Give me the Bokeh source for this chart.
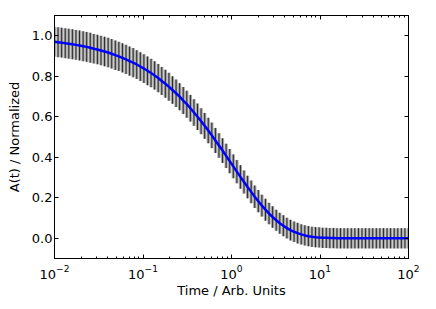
import numpy as np
from bokeh.plotting import figure
from bokeh.models import (LogAxis, LinearAxis, FixedTicker, Range1d, CustomJSTickFormatter,
                          ColumnDataSource, PrintfTickFormatter)
from bokeh.embed import file_html
from bokeh.resources import INLINE

# sample times (log spaced, 100 samples from 1e-2 to 1e2)
time = np.logspace(-2, 2, 100)

# A(t)
amp = [0.970, 0.968, 0.966, 0.963, 0.961, 0.958, 0.955, 0.952, 0.948, 0.945,
       0.941, 0.936, 0.932, 0.927, 0.922, 0.917, 0.911, 0.904, 0.898, 0.891,
       0.883, 0.875, 0.867, 0.858, 0.848, 0.838, 0.827, 0.816, 0.804, 0.791,
       0.777, 0.763, 0.748, 0.732, 0.716, 0.699, 0.680, 0.662, 0.642, 0.621,
       0.600, 0.578, 0.555, 0.532, 0.508, 0.483, 0.458, 0.433, 0.407, 0.381,
       0.355, 0.329, 0.303, 0.278, 0.253, 0.229, 0.205, 0.183, 0.161, 0.141,
       0.122, 0.105, 0.089, 0.074, 0.062, 0.050, 0.040, 0.032, 0.025, 0.019,
       0.014, 0.010, 0.007, 0.005, 0.004, 0.002, 0.002, 0.001, 0.001, 0.000,
       0.000, 0.000, 0.000, 0.000, 0.000, 0.000, 0.000, 0.000, 0.000, 0.000,
       0.000, 0.000, 0.000, 0.000, 0.000, 0.000, 0.000, 0.000, 0.000, 0.000]

# error bar half-lengths
err = [0.074, 0.074, 0.074, 0.074, 0.074, 0.074, 0.074, 0.074, 0.074, 0.074,
       0.074, 0.073, 0.073, 0.073, 0.073, 0.073, 0.073, 0.073, 0.072, 0.072,
       0.072, 0.072, 0.072, 0.071, 0.071, 0.071, 0.071, 0.070, 0.070, 0.070,
       0.069, 0.069, 0.069, 0.068, 0.068, 0.067, 0.067, 0.067, 0.066, 0.066,
       0.065, 0.064, 0.064, 0.063, 0.063, 0.062, 0.061, 0.061, 0.060, 0.060,
       0.059, 0.058, 0.058, 0.057, 0.056, 0.056, 0.055, 0.055, 0.054, 0.054,
       0.053, 0.053, 0.052, 0.052, 0.052, 0.051, 0.051, 0.051, 0.051, 0.050,
       0.050, 0.050, 0.050, 0.050, 0.050, 0.050, 0.050, 0.050, 0.050, 0.050,
       0.050, 0.050, 0.050, 0.050, 0.050, 0.050, 0.050, 0.050, 0.050, 0.050,
       0.050, 0.050, 0.050, 0.050, 0.050, 0.050, 0.050, 0.050, 0.050, 0.050]

x_major = [0.01, 0.1, 1, 10, 100]
x_minor = [m * d for d in [0.01, 0.1, 1, 10] for m in range(2, 10)]
y_major = [0.0, 0.2, 0.4, 0.6, 0.8, 1.0]

amp_a = np.array(amp)
err_a = np.array(err)
src = ColumnDataSource(dict(t=time, a=amp_a, lo=amp_a - err_a, hi=amp_a + err_a))

FONT = "DejaVu Sans"
FS = "13px"

p = figure(width=436, height=309, x_axis_type="log",
           x_range=Range1d(0.01, 100), y_range=Range1d(-0.1, 1.1),
           output_backend="svg", toolbar_location=None,
           min_border_left=54, min_border_right=28, min_border_top=15, min_border_bottom=51)
p.grid.visible = False
p.outline_line_color = "black"
p.outline_line_alpha = 1.0
p.outline_line_width = 1
p.background_fill_color = "white"
p.border_fill_color = "white"

xticker = FixedTicker(ticks=x_major, minor_ticks=x_minor)
yticker = FixedTicker(ticks=y_major, minor_ticks=[])

def style(ax):
    ax.axis_line_color = "black"
    ax.major_tick_line_color = "black"
    ax.minor_tick_line_color = "black"
    ax.major_tick_in = 4
    ax.major_tick_out = 0
    ax.minor_tick_in = 2
    ax.minor_tick_out = 0
    ax.major_label_text_font = FONT
    ax.major_label_text_font_size = FS
    ax.major_label_text_color = "black"
    ax.axis_label_text_font = FONT
    ax.axis_label_text_font_size = FS
    ax.axis_label_text_font_style = "normal"
    ax.axis_label_text_color = "black"

xa = p.xaxis[0]
xa.ticker = xticker
style(xa)
xa.axis_label = "Time / Arb. Units"
xa.major_label_standoff = 6
xa.axis_label_standoff = 1

ya = p.yaxis[0]
ya.ticker = yticker
ya.formatter = PrintfTickFormatter(format="%.1f")
style(ya)
ya.axis_label = "A(t) / Normalized"
ya.major_label_standoff = 2
ya.axis_label_standoff = 7

blank = CustomJSTickFormatter(code="return ''")
top = LogAxis(ticker=xticker, formatter=blank)
style(top)
top.major_label_standoff = 0
p.add_layout(top, "above")
right = LinearAxis(ticker=yticker, formatter=blank)
style(right)
right.major_label_standoff = 0
p.add_layout(right, "right")

p.segment(x0="t", y0="lo", x1="t", y1="hi", source=src,
          line_color="#9a9a9a", line_width=3.2, line_alpha=0.9)
p.segment(x0="t", y0="lo", x1="t", y1="hi", source=src,
          line_color="black", line_width=1, line_alpha=0.75)
p.line(x="t", y="a", source=src, line_color="#0000ff", line_width=2.5)

open("out.html", "w").write(file_html(p, INLINE))
